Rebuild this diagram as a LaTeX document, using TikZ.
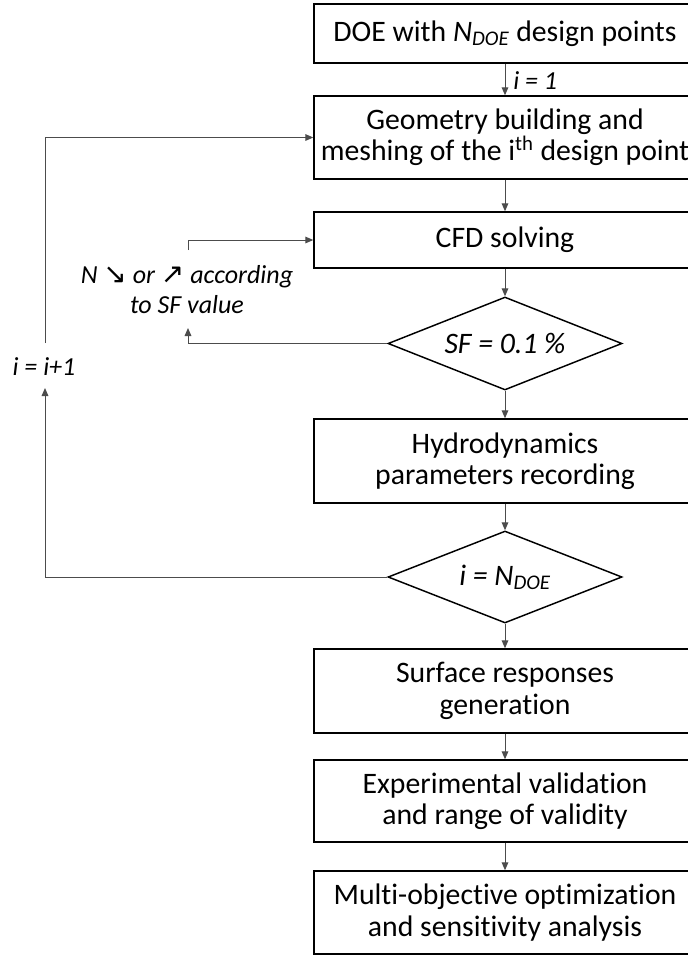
\documentclass[tikz,border=0pt]{standalone}
\usepackage{fontspec}
\setmainfont[Ligatures=NoCommon]{Carlito}
\newfontfamily\arrowfont{DejaVu Sans}
\usetikzlibrary{arrows.meta,shapes.geometric}
\newcommand\bigtxt{\fontsize{22.3}{23.5}\selectfont}
\newcommand\smalltxt{\fontsize{19.5}{22.5}\selectfont}
\newcommand\arr[1]{{\arrowfont\upshape\fontsize{21}{21}\selectfont #1}}
\begin{document}
\begin{tikzpicture}[x=0.75pt,y=-0.75pt,
  box/.style={draw=black,line width=1.1pt,minimum width=286.5pt,inner sep=0pt,align=center,font=\bigtxt},
  dec/.style={draw=black,diamond,line width=1.1pt,minimum width=175.5pt,inner sep=0pt,shape aspect=2.5,font=\bigtxt\itshape},
  conn/.style={draw=black!70,line width=0.75pt,-{Triangle[length=6pt,width=5pt]}},
  lab/.style={font=\smalltxt\itshape,align=center,inner sep=0pt}]
\path[use as bounding box] (0,0) rectangle (688,956);
\clip (0,0) rectangle (688,956);
\fill[white] (0,0) rectangle (688,956);

\node[box,minimum height=44.25pt] (b1) at (505,33.5) {DOE with \textit{N}\textsubscript{\textit{DOE}} design points};
\node[box,minimum height=62.25pt] (b2) at (505,137.5) {Geometry building and\\meshing of the i\textsuperscript{th} design point};
\node[box,minimum height=42pt] (b3) at (505,240) {CFD solving};
\node[dec,minimum height=69.75pt] (d1) at (505,343.5) {SF = 0.1 \%};
\node[box,minimum height=63pt] (b4) at (505,461) {Hydrodynamics\\parameters recording};
\node[dec,minimum height=69pt] (d2) at (505,577) {i = N\textsubscript{DOE}};
\node[box,minimum height=63pt] (b5) at (505,691) {Surface responses\\generation};
\node[box,minimum height=61.5pt] (b6) at (505,801) {Experimental validation\\and range of validity};
\node[box,minimum height=62.25pt] (b7) at (505,912.5) {Multi-objective optimization\\and sensitivity analysis};

\draw[conn] (b1) -- (b2);
\draw[conn] (b2) -- (b3);
\draw[conn] (b3) -- (d1);
\draw[conn] (d1) -- (b4);
\draw[conn] (b4) -- (d2);
\draw[conn] (d2) -- (b5);
\draw[conn] (b5) -- (b6);
\draw[conn] (b6) -- (b7);

\node[lab,anchor=west] (l1) at (513,81) {i = 1};

\coordinate (f1a) at (188,328);
\draw[conn] (d1.west) -| (f1a);
\coordinate (f1b) at (188,250);
\draw[conn] (f1b) |- (b3.west);
\node[lab] (nlab) at (187,290) {N \arr{↘} or \arr{↗} according\\to SF value};

\coordinate (f2a) at (45,388);
\draw[conn] (d2.west) -| (f2a);
\coordinate (f2b) at (45,343);
\draw[conn] (f2b) |- (b2.west);
\node[lab] (ilab) at (44,367) {i = i+1};
\end{tikzpicture}
\end{document}
